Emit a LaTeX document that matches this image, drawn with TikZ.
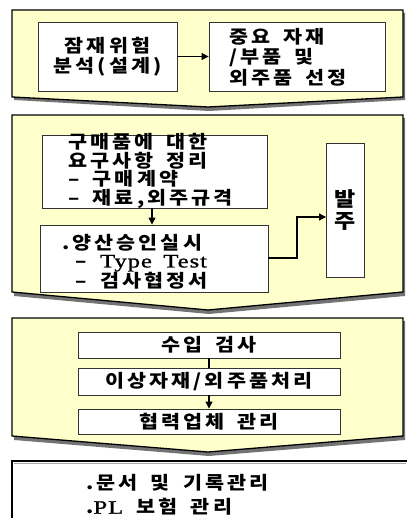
\documentclass[tikz,border=0pt]{standalone}
\usepackage{fontspec}
\usetikzlibrary{arrows.meta}
\newfontfamily\kr[FakeStretch=1.15,LetterSpace=17,WordSpace=1.7,BoldFeatures={FakeStretch=1.15,LetterSpace=17,WordSpace=1.7}]{Noto Sans CJK KR}
\newfontfamily\lat[FakeStretch=1.3,LetterSpace=5,WordSpace=1.6,FakeBold=1]{Liberation Serif}
\newcommand{\kf}[2]{\kr\bfseries\fontsize{#1}{#2}\selectfont}
\definecolor{panelyellow}{HTML}{FFFFCC}
\begin{document}
\begin{tikzpicture}[x=1pt,y=-1pt,
  panel/.style={draw=black,line width=1.3pt,fill=panelyellow,line join=miter},
  pshadow/.style={fill=black!55},
  box/.style={draw=black!80,line width=0.9pt,fill=white,inner sep=0pt,font=\kf{18}{20}},
  txt/.style={anchor=west,align=left,inner sep=0pt},
  conn/.style={line width=1.1pt,draw=black},
  arr/.style={conn,-{Triangle[length=7pt,width=7pt]}}]
\useasboundingbox (0,0) rectangle (406,518);
% panel 1
\fill[pshadow] (14,13) -- (405,13) -- (405,100) -- (209,111) -- (14,100) -- cycle;
\draw[panel] (12,10) -- (403,10) -- (403,97) -- (208,107) -- (12,97) -- cycle;
% panel 2
\fill[pshadow] (14,118) -- (405,118) -- (405,296) -- (209,314) -- (14,296) -- cycle;
\draw[panel] (12,115) -- (403,115) -- (403,292) -- (208,310) -- (12,292) -- cycle;
% panel 3
\fill[pshadow] (14,321) -- (405,321) -- (405,440) -- (209,456) -- (14,440) -- cycle;
\draw[panel] (12,318) -- (403,318) -- (403,436) -- (208,452) -- (12,436) -- cycle;
% panel 4
\draw[line width=1.3pt,fill=white] (12,530) -- (12,461) -- (420,461);
\draw[black!35,line width=1pt] (13.5,463.5) -- (406,463.5);

% boxes panel 1
\node[box,minimum width=139pt,minimum height=69pt,align=center] (A) at (107.5,56.5)
  {잠재위험\\분석(설계)};
\node[box,minimum width=176pt,minimum height=69pt] (B) at (297,56.5) {};
\node[txt,font=\kf{18}{20.5}] (Bt) at (229,57)
  {중요 자재\\/부품 및\\외주품 선정};
\draw[arr] (A.east) -- (B.west);

% boxes panel 2
\node[box,minimum width=225pt,minimum height=73pt] (C) at (154.5,171.5) {};
\node[txt,font=\kf{18}{18.5}] (Ct) at (68,171)
  {구매품에 대한\\요구사항 정리\\– 구매계약\\– 재료,외주규격};
\node[box,minimum width=228pt,minimum height=67pt] (D) at (154,258.5) {};
\node[txt,font=\kf{18}{17.8}] (Dt) at (62,262)
  {.양산승인실시\\\ – {\lat\mdseries\fontsize{19}{17.8}\selectfont Type Test}\\\ – 검사협정서};
\node[box,minimum width=38pt,minimum height=134pt,align=center,font=\kf{20}{22}] (E) at (345.5,210)
  {발\\주};
\draw[arr] (C.south -| 152,0) -- (D.north -| 152,0);
\coordinate (d1) at (297,258);
\coordinate (d2) at (297,217);
\draw[arr] (D.east |- 0,258) -- (d1) -- (d2) -- (E.west |- d2);

% boxes panel 3
\node[box,minimum width=262pt,minimum height=26pt] (F) at (209,345) {수입 검사};
\node[box,minimum width=262pt,minimum height=27pt] (G) at (209,381.5) {이상자재/외주품처리};
\node[box,minimum width=262pt,minimum height=25pt] (H) at (209,421.5) {협력업체 관리};
\draw[conn] (F.south) -- (G.north);
\draw[arr] (G.south) -- (H.north);

% panel 4 text
\node[txt,font=\kf{18}{24}] (P) at (86,495)
  {.문서 및 기록관리\\.{\lat\mdseries\fontsize{19}{24}\selectfont PL} 보험 관리};
\end{tikzpicture}
\end{document}
